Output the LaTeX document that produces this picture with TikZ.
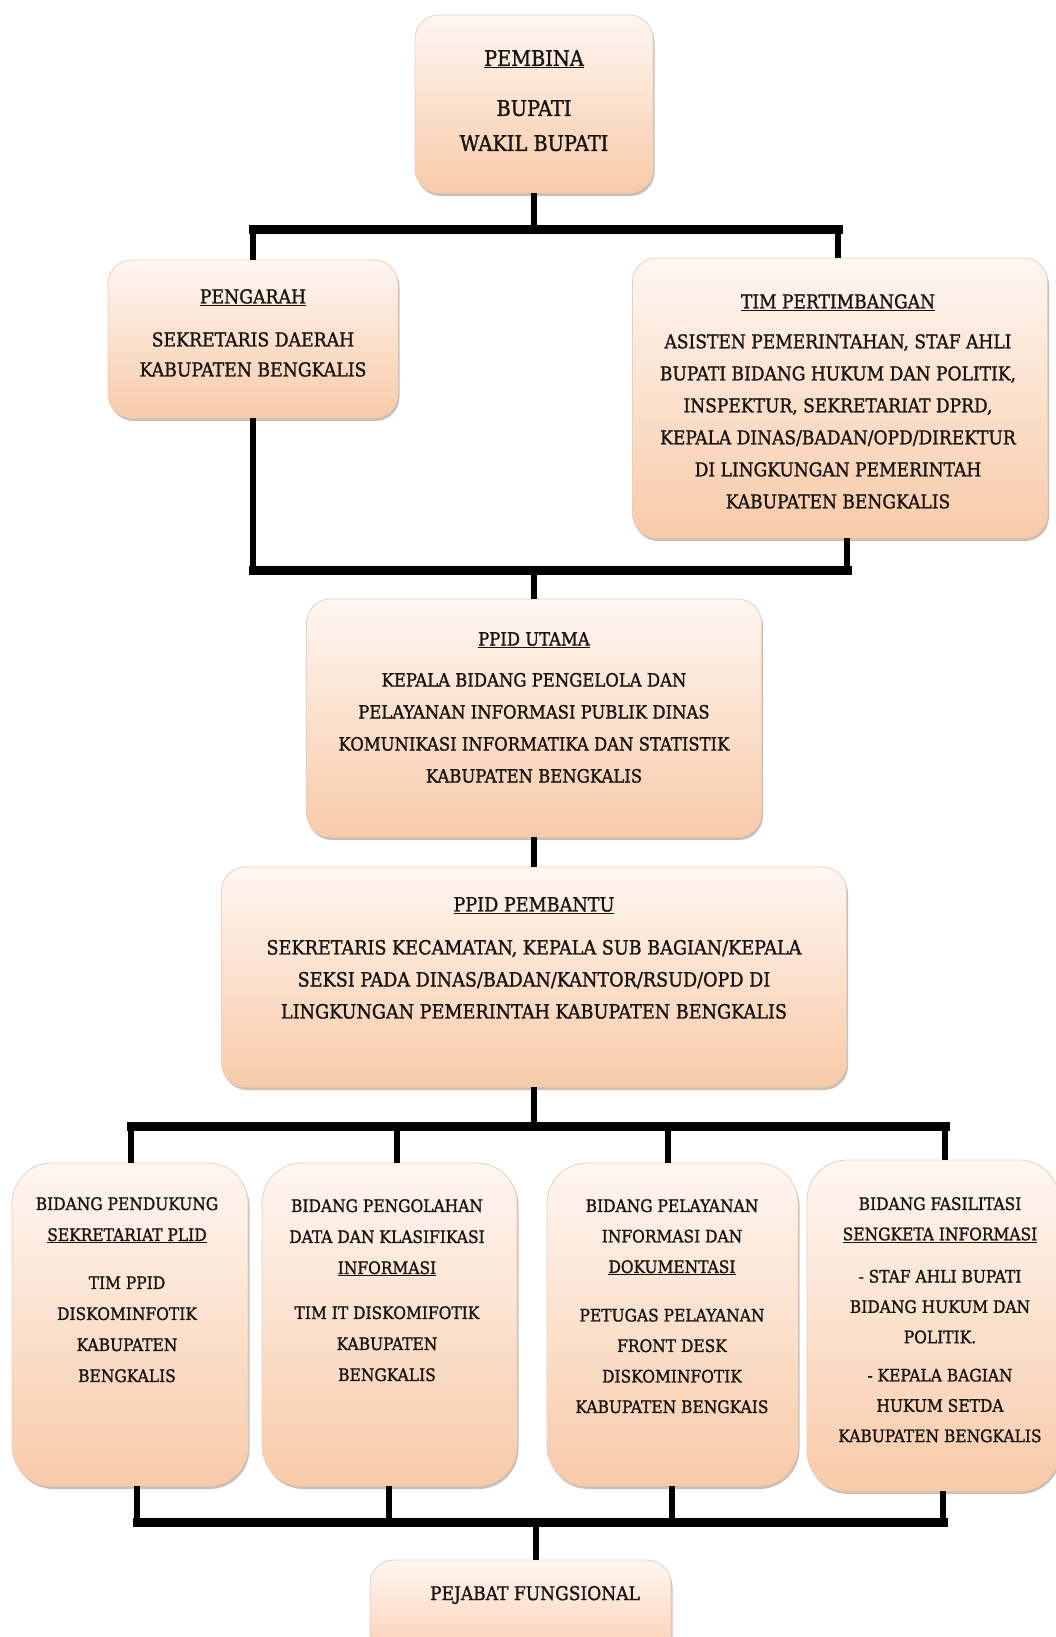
\documentclass[tikz,border=0pt]{standalone}
\usepackage{fontspec}
\setmainfont{DejaVu Serif Condensed}[RawFeature={embolden=1.3}]
\usetikzlibrary{shadows}
\definecolor{boxtop}{RGB}{254,247,242}
\definecolor{boxbot}{RGB}{248,202,168}
\definecolor{boxline}{RGB}{232,208,190}
\definecolor{shadowc}{RGB}{150,110,80}
\definecolor{txtc}{RGB}{25,20,18}
\tikzset{
  orgbox/.style={draw=boxline, line width=0.8pt, rounded corners=24pt,
    top color=boxtop, bottom color=boxbot, inner sep=0pt,
    drop shadow={shadow xshift=1.5pt, shadow yshift=-3pt, fill=shadowc, opacity=0.45}},
  lowbox/.style={orgbox, rounded corners=40pt},
  txt/.style={align=center, inner sep=0pt, text=txtc, font=\fontsize{19.2}{30}\selectfont},
  lowtxt/.style={txt, font=\fontsize{17.2}{31}\selectfont},
  vline/.style={line width=6pt, black},
  hbar/.style={line width=9pt, black, line cap=rect},
}
\begin{document}
\begin{tikzpicture}[x=1pt, y=-1pt]
\clip (0,0) rectangle (1056,1637);
\fill[white] (0,0) rectangle (1056,1637);

% boxes
\node[orgbox, minimum width=238pt, minimum height=178pt] (pembina) at (534,104) {};
\node[orgbox, minimum width=290pt, minimum height=158pt] (pengarah) at (253,339) {};
\node[orgbox, minimum width=415pt, minimum height=280pt] (tim) at (840,398) {};
\node[orgbox, minimum width=455pt, minimum height=238pt] (utama) at (534,718) {};
\node[orgbox, minimum width=625pt, minimum height=220pt] (pembantu) at (534,977) {};
\node[lowbox, minimum width=236pt, minimum height=323pt] (b1) at (130,1324.5) {};
\node[lowbox, minimum width=255pt, minimum height=323pt] (b2) at (389.5,1324.5) {};
\node[lowbox, minimum width=251pt, minimum height=323pt] (b3) at (672.5,1324.5) {};
\node[lowbox, minimum width=252pt, minimum height=331pt] (b4) at (933,1325.5) {};
\node[orgbox, minimum width=301pt, minimum height=110pt] (pejabat) at (520.5,1615) {};

% texts
\node[txt, anchor=north, font=\fontsize{21.5}{35}\selectfont] (pembinat) at (534,50)
  {\underline{PEMBINA}\\[15pt] BUPATI\\ WAKIL BUPATI};
\node[txt, anchor=north] (pengaraht) at (253,289)
  {\underline{PENGARAH}\\[13pt] SEKRETARIS DAERAH\\ KABUPATEN BENGKALIS};
\node[txt, anchor=north, font=\fontsize{19}{32}\selectfont] (timt) at (838,294)
  {\underline{TIM PERTIMBANGAN}\\[8pt] ASISTEN PEMERINTAHAN, STAF AHLI\\ BUPATI BIDANG HUKUM DAN POLITIK,\\ INSPEKTUR, SEKRETARIAT DPRD,\\ KEPALA DINAS/BADAN/OPD/DIREKTUR\\ DI LINGKUNGAN PEMERINTAH\\ KABUPATEN BENGKALIS};
\node[txt, anchor=north, font=\fontsize{18.3}{32}\selectfont] (utamat) at (534,632)
  {\underline{PPID UTAMA}\\[9pt] KEPALA BIDANG PENGELOLA DAN\\ PELAYANAN INFORMASI PUBLIK DINAS\\ KOMUNIKASI INFORMATIKA DAN STATISTIK\\ KABUPATEN BENGKALIS};
\node[txt, anchor=north, font=\fontsize{19.6}{32}\selectfont] (pembantut) at (534,897)
  {\underline{PPID PEMBANTU}\\[11pt] SEKRETARIS KECAMATAN, KEPALA SUB BAGIAN/KEPALA\\ SEKSI PADA DINAS/BADAN/KANTOR/RSUD/OPD DI\\ LINGKUNGAN PEMERINTAH KABUPATEN BENGKALIS};
\node[lowtxt, anchor=north] (b1t) at (127,1197)
  {BIDANG PENDUKUNG\\ \underline{SEKRETARIAT PLID}\\[17pt] TIM PPID\\ DISKOMINFOTIK\\ KABUPATEN\\ BENGKALIS};
\node[lowtxt, anchor=north] (b2t) at (387,1199)
  {BIDANG PENGOLAHAN\\ DATA DAN KLASIFIKASI\\ \underline{INFORMASI}\\[14pt] TIM IT DISKOMIFOTIK\\ KABUPATEN\\ BENGKALIS};
\node[lowtxt, anchor=north, font=\fontsize{17.2}{30.5}\selectfont] (b3t) at (672,1199)
  {BIDANG PELAYANAN\\ INFORMASI DAN\\ \underline{DOKUMENTASI}\\[18pt] PETUGAS PELAYANAN\\ FRONT DESK\\ DISKOMINFOTIK\\ KABUPATEN BENGKAIS};
\node[lowtxt, anchor=north, font=\fontsize{17.2}{30.3}\selectfont] (b4t) at (940,1197)
  {BIDANG FASILITASI\\ \underline{SENGKETA INFORMASI}\\[12pt] - STAF AHLI BUPATI\\ BIDANG HUKUM DAN\\ POLITIK.\\[8pt] - KEPALA BAGIAN\\ HUKUM SETDA\\ KABUPATEN BENGKALIS};
\node[txt, font=\fontsize{19}{30}\selectfont] (pejabatt) at (535,1595) {PEJABAT FUNGSIONAL};

% connector coordinates
\coordinate (bar1L) at (253,230);
\coordinate (bar1R) at (838,230);
\coordinate (bar2L) at (253,570);
\coordinate (bar2R) at (847,570);
\coordinate (bar2M) at (534,570);
\coordinate (bar3L) at (131,1126);
\coordinate (bar3R) at (945,1126);
\coordinate (d2) at (397,1126);
\coordinate (d3) at (668,1126);
\coordinate (bar4L) at (137,1522);
\coordinate (bar4R) at (943,1522);
\coordinate (u2) at (389,1522);
\coordinate (u3) at (672,1522);
\coordinate (bar4M) at (536,1522);

% top tree
\draw[vline] (pembina.south) -- (pembina.south |- bar1L);
\draw[hbar] (bar1L) -- (bar1R);
\draw[vline] (bar1L) -- (bar1L |- pengarah.north);
\draw[vline] (bar1R) -- (bar1R |- tim.north);
% second level
\draw[vline] (pengarah.south) -- (pengarah.south |- bar2L);
\draw[vline] (bar2R |- tim.south) -- (bar2R);
\draw[hbar] (bar2L) -- (bar2R);
\draw[vline] (bar2M) -- (bar2M |- utama.north);
\draw[vline] (utama.south) -- (pembantu.north);
% third level
\draw[vline] (pembantu.south) -- (pembantu.south |- bar3L);
\draw[hbar] (bar3L) -- (bar3R);
\draw[vline] (bar3L) -- (bar3L |- b1.north);
\draw[vline] (d2) -- (d2 |- b2.north);
\draw[vline] (d3) -- (d3 |- b3.north);
\draw[vline] (bar3R) -- (bar3R |- b4.north);
% bottom level
\draw[vline] (bar4L |- b1.south) -- (bar4L);
\draw[vline] (u2 |- b2.south) -- (u2);
\draw[vline] (u3 |- b3.south) -- (u3);
\draw[vline] (bar4R |- b4.south) -- (bar4R);
\draw[hbar] (bar4L) -- (bar4R);
\draw[vline] (bar4M) -- (bar4M |- pejabat.north);
\end{tikzpicture}
\end{document}
